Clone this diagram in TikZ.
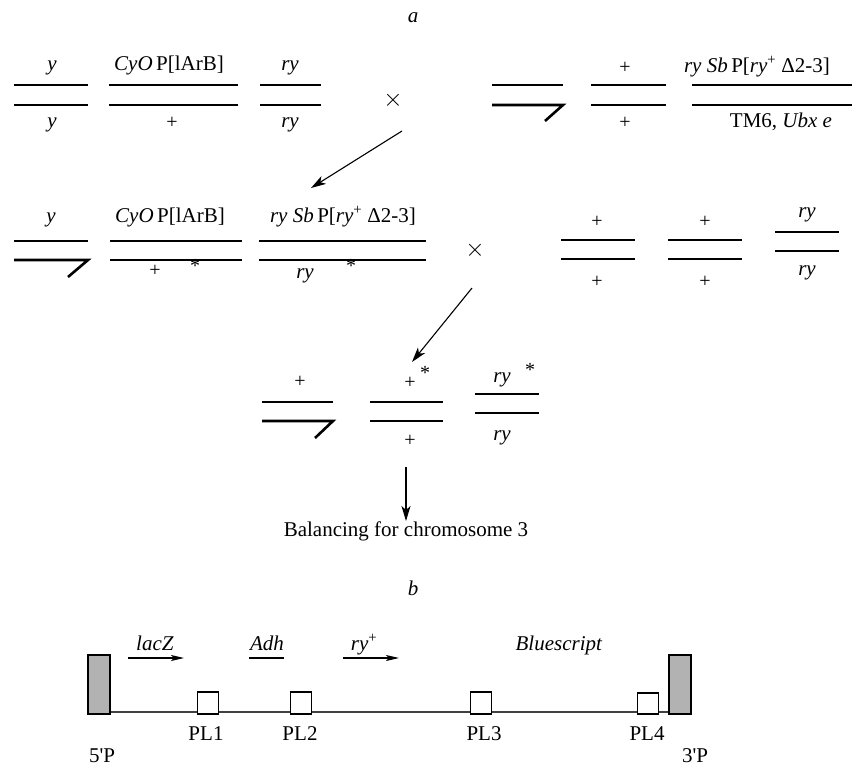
\documentclass[tikz,border=0pt]{standalone}
\usepackage{fontspec}
\setmainfont{Liberation Serif}
% same face without TeX ligature mapping, keeps the straight apostrophe
\newfontfamily\plainserif{Liberation Serif}
\usetikzlibrary{arrows.meta}
\tikzset{
  chrom/.style={line width=2.6pt},
  lbl/.style={font=\fontsize{21}{25}\selectfont, inner sep=0pt, anchor=base},
  plus/.style={font=\fontsize{20}{24}\selectfont, inner sep=0pt},
  star/.style={font=\fontsize{20}{24}\selectfont, inner sep=0pt},
  cross/.style={font=\fontsize{24}{28}\selectfont, inner sep=0pt},
  flow/.style={-{Stealth[length=15pt,width=9pt,inset=4pt]}, line width=1.1pt},
  gene/.style={-{Stealth[length=13pt,width=6pt,inset=3pt]}, line width=1.1pt},
  site/.style={draw, line width=1.7pt, fill=white, minimum width=21pt, minimum height=22pt, inner sep=0pt, anchor=south},
  term/.style={draw, line width=1.7pt, fill=black!30, minimum width=22pt, minimum height=59pt, inner sep=0pt, anchor=south},
  vec/.style={line width=1.4pt, draw=black!75}
}
\begin{document}
\begin{tikzpicture}[x=1pt,y=-1pt]
\useasboundingbox (0,0) rectangle (852,766);

% ---------- part a ----------
\node[lbl] (ta) at (413,22) {\textit{a}};

% first cross: female
\draw[chrom] (14,85) -- (88,85);
\draw[chrom] (14,105) -- (88,105);
\node[lbl] (f1u) at (52,70) {\textit{y}};
\node[lbl] (f1l) at (52,127) {\textit{y}};
\draw[chrom] (109,85) -- (238,85);
\draw[chrom] (109,105) -- (238,105);
\node[lbl] (f2u) at (169,70) {\textit{CyO}\,P[lArB]};
\node[plus] (f2l) at (172,123) {+};
\draw[chrom] (260,85) -- (321,85);
\draw[chrom] (260,105) -- (321,105);
\node[lbl] (f3u) at (290,70) {\textit{ry}};
\node[lbl] (f3l) at (290,127) {\textit{ry}};
\node[cross] (x1) at (393,100) {$\times$};

% first cross: male
\draw[chrom] (492,85) -- (563,85);
\draw[chrom] (492,105) -- (563,105) -- (545,121);
\draw[chrom] (591,85) -- (666,85);
\draw[chrom] (591,105) -- (666,105);
\node[plus] (m2u) at (625,68) {+};
\node[plus] (m2l) at (625,123) {+};
\draw[chrom] (692,85) -- (852,85);
\draw[chrom] (692,105) -- (852,105);
\node[lbl] (m3u) at (757,72) {\textit{ry Sb}\,P[\textit{ry}\textsuperscript{+} Δ2-3]};
\node[lbl] (m3l) at (781,127) {TM6, \textit{Ubx e}};

\coordinate (a1s) at (402,131);
\coordinate (a1e) at (311,188);
\draw[flow] (a1s) -- (a1e);

% second cross: male progeny
\draw[chrom] (14,241) -- (88,241);
\draw[chrom] (14,260) -- (88,260) -- (68,277);
\node[lbl] (g1u) at (51,222) {\textit{y}};
\draw[chrom] (110,241) -- (242,241);
\draw[chrom] (110,260) -- (242,260);
\node[lbl] (g2u) at (170,222) {\textit{CyO}\,P[lArB]};
\node[plus] (g2l) at (155,271) {+};
\node[star] (g2s) at (195,266) {*};
\draw[chrom] (259,241) -- (426,241);
\draw[chrom] (259,260) -- (426,260);
\node[lbl] (g3u) at (343,222) {\textit{ry Sb}\,P[\textit{ry}\textsuperscript{+} Δ2-3]};
\node[lbl] (g3l) at (305,278) {\textit{ry}};
\node[star] (g3s) at (351,266) {*};
\node[cross] (x2) at (475,250) {$\times$};

% second cross: female
\draw[chrom] (561,240) -- (635,240);
\draw[chrom] (561,259) -- (635,259);
\node[plus] (h1u) at (597,222) {+};
\node[plus] (h1l) at (597,282) {+};
\draw[chrom] (668,240) -- (742,240);
\draw[chrom] (668,259) -- (742,259);
\node[plus] (h2u) at (705,222) {+};
\node[plus] (h2l) at (705,282) {+};
\draw[chrom] (775,232) -- (839,232);
\draw[chrom] (775,251) -- (839,251);
\node[lbl] (h3u) at (807,217) {\textit{ry}};
\node[lbl] (h3l) at (807,275) {\textit{ry}};

\coordinate (a2s) at (472,288);
\coordinate (a2e) at (412,362);
\draw[flow] (a2s) -- (a2e);

% selected progeny
\draw[chrom] (262,402) -- (333,402);
\draw[chrom] (262,421) -- (333,421) -- (315,438);
\node[plus] (k1u) at (300,382) {+};
\draw[chrom] (370,402) -- (443,402);
\draw[chrom] (370,421) -- (443,421);
\node[plus] (k2u) at (410,383) {+};
\node[star] (k2s) at (425,373) {*};
\node[plus] (k2l) at (410,441) {+};
\draw[chrom] (475,394) -- (539,394);
\draw[chrom] (475,413) -- (539,413);
\node[lbl] (k3u) at (502,382) {\textit{ry}};
\node[star] (k3s) at (530,370) {*};
\node[lbl] (k3l) at (502,440) {\textit{ry}};

\node[lbl] (bal) at (406,536) {Balancing for chromosome 3};
\coordinate (a3s) at (406,467);
\draw[flow] (a3s) -- (bal.north);

% ---------- part b ----------
\node[lbl] (tb) at (413,595) {\textit{b}};

\coordinate (v0) at (110,712);
\coordinate (v1) at (669,712);
\draw[vec] (v0) -- (v1);

\node[term] (p5) at (99,715) {};
\node[term] (p3) at (680,715) {};
\node[site] (pl1) at (208,715) {};
\node[site] (pl2) at (301,715) {};
\node[site] (pl3) at (481,715) {};
\node[site, minimum height=21pt] (pl4) at (648,715) {};

\node[lbl] (lp1) at (206,740) {PL1};
\node[lbl] (lp2) at (300,740) {PL2};
\node[lbl] (lp3) at (484,740) {PL3};
\node[lbl] (lp4) at (647,740) {PL4};
\node[lbl] (l5) at (102,762) {\plainserif 5'P};
\node[lbl] (l3) at (695,762) {\plainserif 3'P};

\node[lbl] (glac) at (155,650) {\textit{lacZ}};
\node[lbl] (gadh) at (267,650) {\textit{Adh}};
\node[lbl] (gry) at (364,650) {\textit{ry}\textsuperscript{+}};
\node[lbl] (gblue) at (559,650) {\textit{Bluescript}};

\coordinate (lz0) at (128,658);
\coordinate (lz1) at (184,658);
\draw[gene] (lz0) -- (lz1);
\coordinate (ad0) at (249,658);
\coordinate (ad1) at (284,658);
\draw[line width=1.1pt] (ad0) -- (ad1);
\coordinate (ry0) at (343,658);
\coordinate (ry1) at (399,658);
\draw[gene] (ry0) -- (ry1);
\end{tikzpicture}
\end{document}
